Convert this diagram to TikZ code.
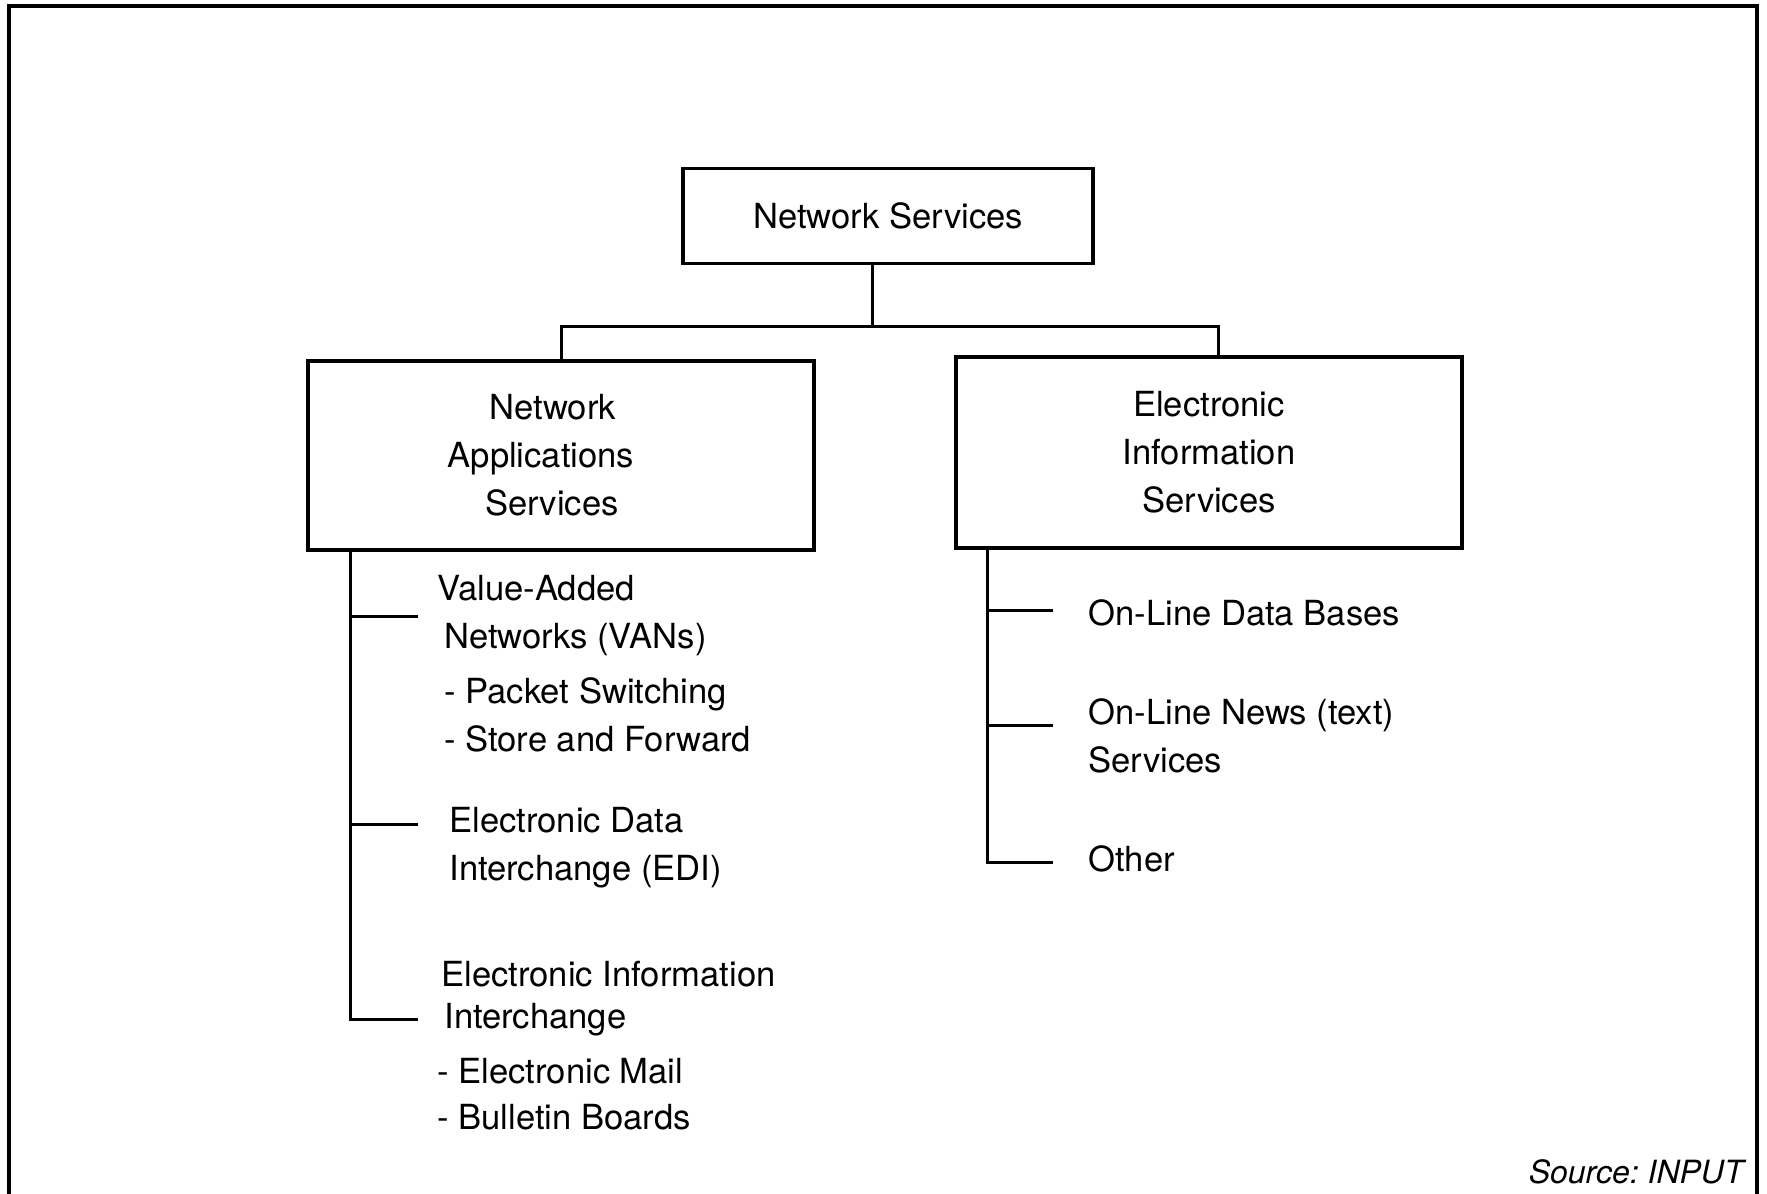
\documentclass[tikz,border=0pt]{standalone}
\usepackage{fontspec}
\setmainfont{TeX Gyre Heros}
\begin{document}
\begin{tikzpicture}[x=0.5pt, y=-0.5pt,
    box/.style={draw, line width=1.6pt, inner sep=0pt, align=center,
      font=\fontsize{17.3}{24}\selectfont},
    item/.style={inner sep=0pt, align=left, anchor=base west,
      font=\fontsize{17.3}{24}\selectfont},
    link/.style={line width=1.5pt}]
    \useasboundingbox (0,0) rectangle (1767,1194);
    \draw[line width=1.6pt] (9,1194) -- (9,6) -- (1757,6) -- (1757,1194);
    \node[box, minimum width=205pt, minimum height=47.5pt] (ns) at (888,216) {Network Services};
    \node[box, minimum width=253pt, minimum height=94.5pt] (nas) at (561,455.5)
      {Network\kern8pt\\Applications\kern20pt\\Services\kern9pt};
    \node[box, minimum width=253pt, minimum height=95.5pt] (eis) at (1209,452.5)
      {Electronic\\Information\\Services};
    \coordinate (split) at (872,326);
    \draw[link] (ns.south -| split) -- (split);
    \draw[link] (nas.north) |- (split) -| ([xshift=4.5pt]eis.north);
    \node[item] (van) at (437,648) {Value-Added\\\hspace{3.5pt}Networks (VANs)};
    \node[item] (vansub) at (444,751) {- Packet Switching\\- Store and Forward};
    \node[item] (edi) at (449,880) {Electronic Data\\Interchange (EDI)};
    \node[item, font=\fontsize{17.3}{21}\selectfont] (eii) at (441,1028)
      {Electronic Information\\\hspace{1.5pt}Interchange};
    \node[item, font=\fontsize{17.3}{23}\selectfont] (eiisub) at (437,1129)
      {- Electronic Mail\\- Bulletin Boards};
    \node[item] (odb) at (1088,625) {On-Line Data Bases};
    \node[item] (onews) at (1088,772) {On-Line News (text)\\Services};
    \node[item] (other) at (1088,871) {Other};
    \node[inner sep=0pt, anchor=base east, font=\fontsize{16}{20}\selectfont\itshape]
      (src) at (1744,1183) {Source:\ INPUT};
    \coordinate (vanend) at (418,616);
    \coordinate (ediend) at (418,824);
    \coordinate (eiiend) at (418,1019);
    \draw[link] (nas.south -| 350,0) |- (eiiend);
    \draw[link] (vanend -| 350,0) -- (vanend);
    \draw[link] (ediend -| 350,0) -- (ediend);
    \coordinate (odbend) at (1053,610);
    \coordinate (onewsend) at (1053,725);
    \coordinate (otherend) at (1053,862);
    \draw[link] (eis.south -| 987,0) |- (otherend);
    \draw[link] (odbend -| 987,0) -- (odbend);
    \draw[link] (onewsend -| 987,0) -- (onewsend);
\end{tikzpicture}
\end{document}
